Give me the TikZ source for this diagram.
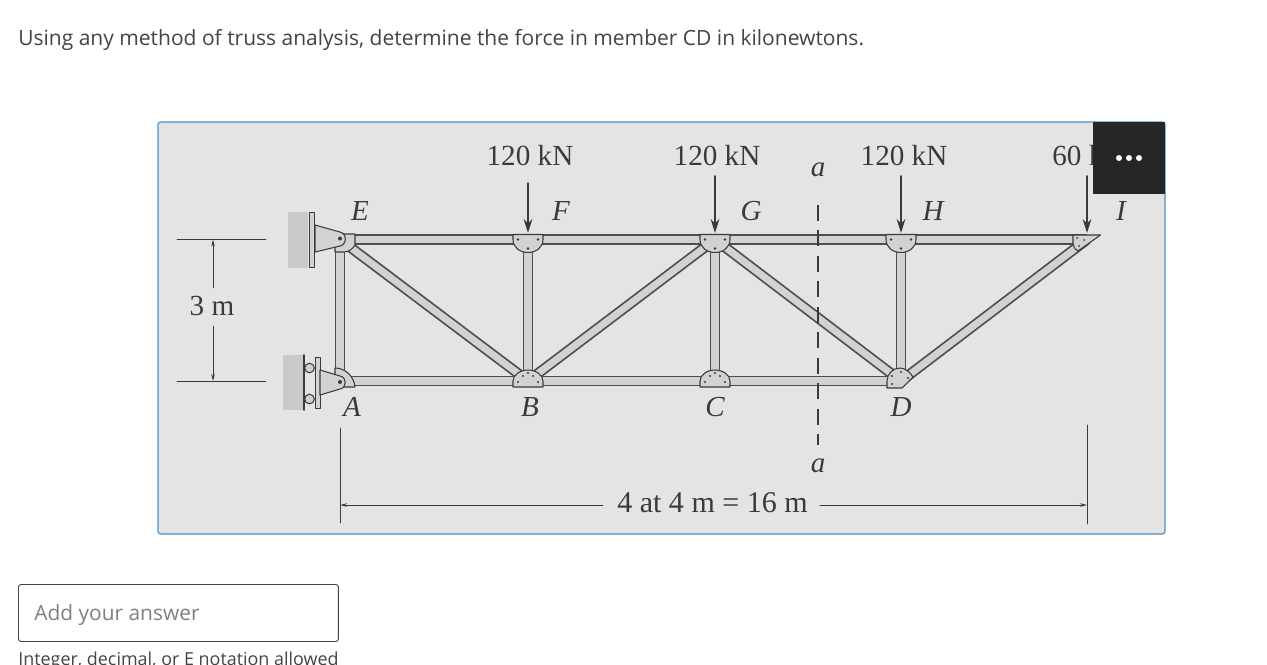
\documentclass[tikz,border=0pt]{standalone}
\usepackage{fontspec}
\usetikzlibrary{arrows.meta}
\setmainfont{Liberation Serif}
\newfontfamily\uifont{Open Sans}
\definecolor{panelgray}{HTML}{E4E4E4}
\definecolor{panelblue}{HTML}{4A90C8}
\definecolor{wallgray}{HTML}{C9C9C9}
\definecolor{steelgray}{HTML}{D2D2D2}
\definecolor{inkgray}{HTML}{3A3A3A}
\definecolor{uigray}{HTML}{444444}
\begin{document}
\begin{tikzpicture}[x=0.02cm,y=-0.02cm,line join=round,line cap=round,>=stealth]
	\tikzset{label style/.style={font=\fontsize{16.6}{18}\selectfont,text=inkgray,inner sep=0pt}}
	\tikzset{joint style/.style={font=\fontsize{16.5}{18}\selectfont\itshape,text=inkgray,inner sep=0pt}}
	\tikzset{member/.style={draw=inkgray!90,line width=1pt,double=steelgray,double distance=4pt,line cap=butt}}
	\tikzset{plate/.style={draw=inkgray,line width=0.6pt,fill=steelgray}}
	\tikzset{load/.style={->,draw=inkgray,line width=1.1pt,>={Stealth[length=8pt,width=5pt]}}}
	\tikzset{dim/.style={draw=inkgray,line width=0.5pt}}
	\tikzset{dimarrow/.style={dim,->,>={Stealth[length=4pt,width=2pt]}}}
	\tikzset{top plate/.pic={
		\draw[plate] (-15,-5)--(15,-5)--(15,0) .. controls (15,8) and (8,13) .. (0,13) .. controls (-8,13) and (-15,8) .. (-15,0)--cycle;
		\foreach \a/\b in {-10/0,10/0,0/9} \fill[inkgray] (\a,\b) circle (1.3);
	}}
	\tikzset{bottom plate/.pic={
		\draw[plate] (-15,6)--(15,6)--(15,0) .. controls (15,-6) and (8,-11) .. (0,-11) .. controls (-8,-11) and (-15,-6) .. (-15,0)--cycle;
		\foreach \a/\b in {-10/1,10/1,-5/-5,5/-5,0/-8} \fill[inkgray] (\a,\b) circle (1.1);
	}}
	\useasboundingbox (0,0) rectangle (1267,664);
	\clip (0,0) rectangle (1267,664);
	\fill[white] (0,0) rectangle (1267,664);
	\node[anchor=base west,inner sep=0pt,text=uigray,font=\uifont\fontsize{11.95}{15}\selectfont] (title) at (18,45) {Using any method of truss analysis, determine the force in member CD in kilonewtons.};
	\draw[panelblue,fill=panelgray,line width=0.6pt,rounded corners=1.5pt] (158,122) rectangle (1165,534);
	% truss joints
	\coordinate (E) at (340,239.5);
	\coordinate (F) at (528,239.5);
	\coordinate (G) at (715,239.5);
	\coordinate (H) at (901,239.5);
	\coordinate (I) at (1087,239.5);
	\coordinate (A) at (340,381);
	\coordinate (B) at (528,381);
	\coordinate (C) at (715,381);
	\coordinate (D) at (901,381);
	% supports
	\fill[wallgray] (288,212) rectangle (308,268);
	\draw[plate,line width=0.5pt] (309,212) rectangle (314,267);
	\fill[wallgray] (283,355) rectangle (303,410);
	\draw[inkgray,line width=1pt] (304,355)--(304,410);
	\foreach \y in {368,399} \draw[plate] (309.5,\y) circle (4.8);
	\draw[plate,line width=0.5pt] (315,357) rectangle (320,408);
	% members
	\foreach \p/\q in {E/F,F/G,G/H,H/I,A/B,B/C,C/D,E/A,F/B,G/C,H/D,E/B,B/G,G/D,D/I}
		\draw[member] (\p)--(\q);
	% gusset plates
	\foreach \n in {F,G,H} \pic at (\n) {top plate};
	\foreach \n in {B,C} \pic at (\n) {bottom plate};
	\draw[plate] (340,234)--(355,234)--(355,245) .. controls (352,250) and (348,252) .. (343,252)--(335,252)--(335,245)--cycle;
	\draw[plate] (335,368) .. controls (345,368) and (354,376) .. (355,387)--(340,387)--(335,380)--cycle;
	\draw[plate] (315,225)--(340,232) .. controls (347,233) and (347,245) .. (340,246)--(315,252)--cycle;
	\draw[plate] (320,370)--(340,376) .. controls (347,377) and (347,388) .. (340,389)--(320,395)--cycle;
	\foreach \a/\b in {340/238.5,340/382} \fill[inkgray] (\a,\b) circle (2);
	\draw[plate] (887,388)--(902,388)--(913,377) .. controls (910,372) and (905,368) .. (900,368) .. controls (893,368) and (887,374) .. (887,381)--cycle;
	\foreach \a/\b in {892/384,892/376,901/372,908/378} \fill[inkgray] (\a,\b) circle (1.1);
	\draw[plate] (1073,235)--(1100.5,235)--(1078,251) .. controls (1075,249) and (1073,247) .. (1073,244)--cycle;
	\foreach \a/\b in {1077/238,1084/240,1079/246} \fill[inkgray] (\a,\b) circle (1);
	% loads
	\foreach \n/\x/\y in {F/528/183,G/715/176,H/901/176,I/1087/176}{
		\coordinate (p\n) at (\x,\y);
		\coordinate (q\n) at (\x,233);
		\draw[load] (p\n)--(q\n);
	}
	\node[label style] (loadF) at (530,156) {120 kN};
	\node[label style] (loadG) at (717,156) {120 kN};
	\node[label style] (loadH) at (904,156) {120 kN};
	\node[label style,anchor=west] (loadI) at (1052,156) {60 kN};
	% joint labels
	\foreach \n/\x/\y in {E/360/211,F/561/211,G/751/211,H/933/211,I/1121/211,A/352/407,B/530/407,C/715/407,D/901/407}
		\node[joint style] (label\n) at (\x,\y) {\n};
	% section line
	\node[joint style] (topa) at (818,170) {a};
	\node[joint style] (bota) at (818,466) {a};
	\coordinate (cutstart) at (818,205);
	\coordinate (cutend) at (818,445);
	\draw[dim,dash pattern=on 9pt off 5.5pt,line width=0.6pt,line cap=butt] (cutstart)--(cutend);
	% dimensions
	\coordinate (dimTa) at (177,239.5);
	\coordinate (dimTb) at (266,239.5);
	\coordinate (dimBa) at (177,381);
	\coordinate (dimBb) at (266,381);
	\coordinate (dimTm) at (213,239.5);
	\coordinate (dimBm) at (213,381);
	\draw[dim] (dimTa)--(dimTb);
	\draw[dim] (dimBa)--(dimBb);
	\node[label style] (height) at (212,306) {3 m};
	\draw[dimarrow] (213,288)--(dimTm);
	\draw[dimarrow] (213,326)--(dimBm);
	\coordinate (extAa) at (340,428);
	\coordinate (extAb) at (340,523);
	\coordinate (extIa) at (1087,425);
	\coordinate (extIb) at (1087,524);
	\coordinate (spanA) at (340,505);
	\coordinate (spanI) at (1087,505);
	\draw[dim] (extAa)--(extAb);
	\draw[dim] (extIa)--(extIb);
	\node[label style,font=\fontsize{17.1}{18}\selectfont] (span) at (712.5,503) {4 at 4 m = 16 m};
	\draw[dimarrow] (603,505)--(spanA);
	\draw[dimarrow] (820,505)--(spanI);
	% menu button over the panel
	\fill[black!85] (1093,122) rectangle (1165,194);
	\foreach \x in {1119,1129,1139} \fill[white] (\x,158) circle (3);
	% answer box
	\node[draw=uigray,line width=0.55pt,rounded corners=1.5pt,inner sep=0pt,anchor=north west,minimum width=6.4cm,minimum height=1.14cm] (answer) at (18,584) {};
	\node[anchor=base west,inner sep=0pt,text=black!50,font=\uifont\fontsize{11.9}{15}\selectfont] (hint) at (34,620) {Add your answer};
	\node[anchor=base west,inner sep=0pt,text=uigray,font=\uifont\fontsize{10.2}{12}\selectfont] (note) at (18,665) {Integer, decimal, or E notation allowed};
\end{tikzpicture}
\end{document}
